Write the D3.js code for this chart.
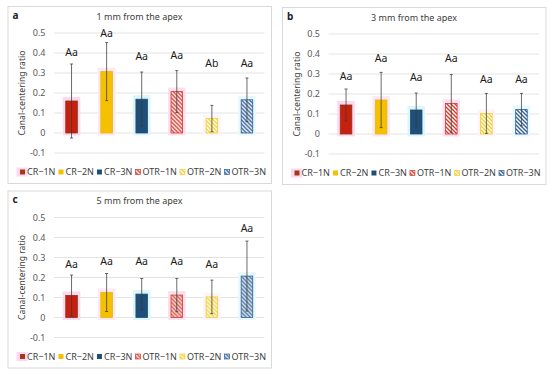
<!DOCTYPE html>
<html>
<head>
<meta charset="utf-8">
<script src="https://cdn.jsdelivr.net/npm/d3@7"></script>
<style>
  body { margin: 0; background: #fff; }
  svg { display: block; font-family: "Noto Sans", sans-serif; }
</style>
</head>
<body>
<svg id="chart" width="550" height="372"></svg>
<script>
// values
const groups = ["CR\u22121N", "CR\u22122N", "CR\u22123N", "OTR\u22121N", "OTR\u22122N", "OTR\u22123N"];
const panelLetters = ["a", "b", "c"];
const panelTitles = ["1 mm from the apex", "3 mm from the apex", "5 mm from the apex"];
const yTicks = [-0.1, 0, 0.1, 0.2, 0.3, 0.4, 0.5];

const mean1mm = [0.160, 0.307, 0.169, 0.207, 0.072, 0.166];
const sd1mm = [0.185, 0.145, 0.136, 0.105, 0.066, 0.109];
const sig1mm = ["Aa", "Aa", "Aa", "Aa", "Ab", "Aa"];
const sigAt1mm = [0.403, 0.50, 0.383, 0.39, 0.347, 0.347];

const mean3mm = [0.145, 0.170, 0.120, 0.153, 0.103, 0.122];
const sd3mm = [0.080, 0.138, 0.085, 0.144, 0.100, 0.081];
const sig3mm = ["Aa", "Aa", "Aa", "Aa", "Aa", "Aa"];
const sigAt3mm = [0.29, 0.38, 0.283, 0.38, 0.273, 0.273];

const mean5mm = [0.110, 0.125, 0.117, 0.112, 0.103, 0.207];
const sd5mm = [0.102, 0.095, 0.078, 0.083, 0.084, 0.175];
const sig5mm = ["Aa", "Aa", "Aa", "Aa", "Aa", "Aa"];
const sigAt5mm = [0.265, 0.28, 0.28, 0.28, 0.265, 0.447];

const solidFill = ["#c8200f", "#f5c000", "#1f4e79"];
const stroke = ["#8a3317", "#e8b800", "#1f4e79", "#d23a2c", "#f0cf2e", "#2f5f95"];
const halo = ["#fcd9ef", "#fde8f5", "#dcf7fb", "#fcdff1", "#fdf4f9", "#e8f8fb"];

const svg = d3.select("#chart");
const defs = svg.append("defs");

// "wide downward diagonal" hatching for the OTR groups
[3, 4, 5].forEach(i => {
    let p = defs.append("pattern")
        .attr("id", "hatch" + i)
        .attr("patternUnits", "userSpaceOnUse")
        .attr("width", 4).attr("height", 4);
    p.append("rect").attr("width", 4).attr("height", 4).attr("fill", "#fff");
    p.append("path")
        .attr("d", "M0,0L4,4M-1,3L1,5M3,-1L5,1")
        .attr("stroke", stroke[i])
        .attr("stroke-width", 1.4);
});

const fillOf = (i) => i < 3 ? solidFill[i] : "url(#hatch" + i + ")";

const W = 263.5, H = 177;
const plotLeft = 46.5, plotRight = 257, yTop = 27, yBottom = 147;

function drawPanel(ox, oy, k, means, sds, sigs, sigAt) {
    let g = svg.append("g").attr("transform", `translate(${ox},${oy})`);

    g.append("rect")
        .attr("x", 0.5).attr("y", 0.5)
        .attr("width", W).attr("height", H)
        .attr("fill", "#fff")
        .attr("stroke", "#d9d9d9");

    let x = d3.scaleBand().domain(groups).range([plotLeft, plotRight]);
    let y = d3.scaleLinear().domain([-0.1, 0.5]).range([yBottom, yTop]);
    let bw = x.bandwidth() * 0.33;

    // gridlines
    g.append("g").selectAll("line")
        .data(yTicks).enter().append("line")
        .attr("x1", plotLeft).attr("x2", plotRight)
        .attr("y1", d => y(d)).attr("y2", d => y(d))
        .attr("stroke", "#e3e3e3").attr("stroke-width", 1);

    // y axis labels
    let ax = g.append("g")
        .attr("transform", "translate(38,0)")
        .call(d3.axisLeft(y).tickValues(yTicks).tickSize(0).tickPadding(0)
            .tickFormat(d => String(Math.round(d * 10) / 10)));
    ax.select(".domain").remove();
    ax.selectAll("text")
        .attr("font-family", "Noto Sans")
        .attr("font-size", 9)
        .attr("fill", "#595959");

    g.append("text")
        .attr("transform", `translate(14.5,${(yTop + yBottom) / 2}) rotate(-90)`)
        .attr("text-anchor", "middle")
        .attr("dy", "0.35em")
        .attr("font-size", 8.6)
        .attr("fill", "#404040")
        .text("Canal-centering ratio");

    g.append("text")
        .attr("x", 5).attr("y", 12.5)
        .attr("font-size", 10).attr("font-weight", "bold")
        .attr("fill", "#222")
        .text(panelLetters[k]);

    g.append("text")
        .attr("x", 132).attr("y", 13.5)
        .attr("text-anchor", "middle")
        .attr("font-size", 9)
        .attr("fill", "#404040")
        .text(panelTitles[k]);

    // soft halos seen behind the bars
    g.append("g").selectAll("rect")
        .data(means).enter().append("rect")
        .attr("x", (d, i) => x(groups[i]) + x.bandwidth() / 2 - bw / 2 - 3)
        .attr("y", (d, i) => y(d + 0.02))
        .attr("width", bw + 6)
        .attr("height", d => y(-0.012) - y(d + 0.02))
        .attr("fill", (d, i) => halo[i]);

    // bars
    g.append("g").selectAll("rect")
        .data(means).enter().append("rect")
        .attr("x", (d, i) => x(groups[i]) + x.bandwidth() / 2 - bw / 2)
        .attr("y", d => y(d))
        .attr("width", bw)
        .attr("height", d => y(0) - y(d))
        .attr("fill", (d, i) => fillOf(i))
        .attr("stroke", (d, i) => stroke[i])
        .attr("stroke-width", 0.8);

    // error bars
    let eb = g.append("g").attr("stroke", "#3a3a3a").attr("stroke-width", 0.75);
    means.forEach((m, i) => {
        let cx = x(groups[i]) + x.bandwidth() / 2;
        eb.append("line").attr("x1", cx).attr("x2", cx)
            .attr("y1", y(m + sds[i])).attr("y2", y(m - sds[i]));
        [m + sds[i], m - sds[i]].forEach(v => {
            eb.append("line").attr("x1", cx - 1.5).attr("x2", cx + 1.5)
                .attr("y1", y(v)).attr("y2", y(v));
        });
    });

    // significance letters
    g.append("g").selectAll("text")
        .data(sigs).enter().append("text")
        .attr("x", (d, i) => x(groups[i]) + x.bandwidth() / 2)
        .attr("y", (d, i) => y(sigAt[i]))
        .attr("dy", "0.35em")
        .attr("text-anchor", "middle")
        .attr("font-size", 10.5)
        .attr("fill", "#1a1a1a")
        .text(d => d);

    // legend
    let lg = g.append("g").attr("transform", "translate(0,166)");
    let items = lg.selectAll("g").data(groups).enter().append("g");
    items.append("rect")
        .attr("x", -3.5).attr("y", -4.5).attr("width", 11).attr("height", 9)
        .attr("fill", (d, i) => i === 0 ? "#fcd9ef" : "none");
    items.append("rect")
        .attr("x", 0).attr("y", -2.5).attr("width", 5).attr("height", 5)
        .attr("fill", (d, i) => i === 0 ? "#a03a1a" : fillOf(i))
        .attr("stroke", (d, i) => i < 3 ? "none" : stroke[i])
        .attr("stroke-width", 0.7);
    items.append("text")
        .attr("x", 7).attr("dy", "0.35em")
        .attr("font-size", 9)
        .attr("fill", "#404040")
        .text(d => d);
    let widths = [];
    items.each(function () { widths.push(7 + d3.select(this).select("text").node().getComputedTextLength()); });
    let total = 246;
    let gap = (total - d3.sum(widths)) / (groups.length - 1);
    let pos = 12.5;
    items.attr("transform", (d, i) => {
        let t = `translate(${pos},0)`;
        pos += widths[i] + gap;
        return t;
    });
}

drawPanel(7.5, 6, 0, mean1mm, sd1mm, sig1mm, sigAt1mm);
drawPanel(282, 7, 1, mean3mm, sd3mm, sig3mm, sigAt3mm);
drawPanel(7.5, 190.5, 2, mean5mm, sd5mm, sig5mm, sigAt5mm);
</script>
</body>
</html>
